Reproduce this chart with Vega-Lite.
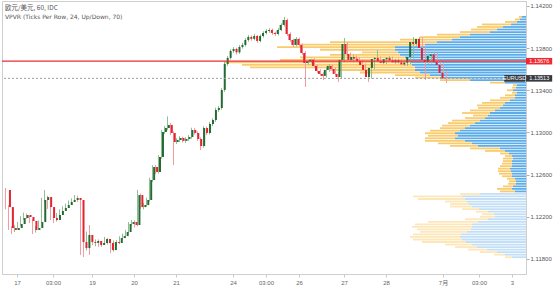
{
  "$schema": "https://vega.github.io/schema/vega-lite/v6.json",
  "width": 524,
  "height": 273,
  "autosize": {"type": "none"},
  "padding": {"left": 2, "top": 1, "right": 27, "bottom": 15},
  "background": "white",
  "title": {
    "text": "欧元/美元, 60, IDC",
    "subtitle": "VPVR (Ticks Per Row, 24, Up/Down, 70)",
    "anchor": "start",
    "frame": "group",
    "offset": -19,
    "dx": 3,
    "font": "Noto Sans CJK SC",
    "subtitleFont": "DejaVu Sans",
    "fontSize": 6.5,
    "subtitleFontSize": 6,
    "fontWeight": "normal",
    "color": "#555555",
    "subtitleColor": "#555555",
    "subtitlePadding": 3
  },
  "config": {
    "view": {"stroke": "#cfcfcf"},
    "axis": {"grid": false}
  },
  "datasets": {
    "candles": [
      {"t":0,"o":1.12454,"h":1.12473,"l":1.12270,"c":1.12292},
      {"t":1,"o":1.12292,"h":1.12310,"l":1.12074,"c":1.12093},
      {"t":2,"o":1.12093,"h":1.12112,"l":1.12036,"c":1.12074},
      {"t":3,"o":1.12074,"h":1.12120,"l":1.12055,"c":1.12093},
      {"t":4,"o":1.12093,"h":1.12150,"l":1.12080,"c":1.12131},
      {"t":5,"o":1.12131,"h":1.12205,"l":1.12115,"c":1.12188},
      {"t":6,"o":1.12188,"h":1.12240,"l":1.12170,"c":1.12217},
      {"t":7,"o":1.12217,"h":1.12230,"l":1.12180,"c":1.12198},
      {"t":8,"o":1.12198,"h":1.12210,"l":1.12140,"c":1.12160},
      {"t":9,"o":1.12160,"h":1.12175,"l":1.12036,"c":1.12074},
      {"t":10,"o":1.12074,"h":1.12110,"l":1.12050,"c":1.12093},
      {"t":11,"o":1.12093,"h":1.12165,"l":1.12080,"c":1.12150},
      {"t":12,"o":1.12150,"h":1.12380,"l":1.12140,"c":1.12359},
      {"t":13,"o":1.12359,"h":1.12454,"l":1.12340,"c":1.12387},
      {"t":14,"o":1.12387,"h":1.12400,"l":1.12275,"c":1.12292},
      {"t":15,"o":1.12292,"h":1.12305,"l":1.12170,"c":1.12188},
      {"t":16,"o":1.12188,"h":1.12200,"l":1.12140,"c":1.12169},
      {"t":17,"o":1.12169,"h":1.12235,"l":1.12155,"c":1.12217},
      {"t":18,"o":1.12217,"h":1.12270,"l":1.12200,"c":1.12255},
      {"t":19,"o":1.12255,"h":1.12300,"l":1.12240,"c":1.12283},
      {"t":20,"o":1.12283,"h":1.12325,"l":1.12265,"c":1.12311},
      {"t":21,"o":1.12311,"h":1.12355,"l":1.12295,"c":1.12340},
      {"t":22,"o":1.12340,"h":1.12375,"l":1.12320,"c":1.12359},
      {"t":23,"o":1.12359,"h":1.12406,"l":1.12340,"c":1.12378},
      {"t":24,"o":1.12378,"h":1.12400,"l":1.12340,"c":1.12359},
      {"t":25,"o":1.12359,"h":1.12370,"l":1.11837,"c":1.11960},
      {"t":26,"o":1.11960,"h":1.12000,"l":1.11818,"c":1.11903},
      {"t":27,"o":1.11903,"h":1.12060,"l":1.11880,"c":1.12027},
      {"t":28,"o":1.12027,"h":1.12122,"l":1.11837,"c":1.11960},
      {"t":29,"o":1.11960,"h":1.11990,"l":1.11930,"c":1.11951},
      {"t":30,"o":1.11951,"h":1.11985,"l":1.11920,"c":1.11970},
      {"t":31,"o":1.11970,"h":1.11985,"l":1.11915,"c":1.11932},
      {"t":32,"o":1.11932,"h":1.11970,"l":1.11915,"c":1.11951},
      {"t":33,"o":1.11951,"h":1.12010,"l":1.11940,"c":1.11989},
      {"t":34,"o":1.11989,"h":1.12000,"l":1.11935,"c":1.11951},
      {"t":35,"o":1.11951,"h":1.11965,"l":1.11856,"c":1.11884},
      {"t":36,"o":1.11884,"h":1.11975,"l":1.11870,"c":1.11960},
      {"t":37,"o":1.11960,"h":1.11980,"l":1.11935,"c":1.11951},
      {"t":38,"o":1.11951,"h":1.12015,"l":1.11940,"c":1.11998},
      {"t":39,"o":1.11998,"h":1.12040,"l":1.11980,"c":1.12017},
      {"t":40,"o":1.12017,"h":1.12075,"l":1.12000,"c":1.12055},
      {"t":41,"o":1.12055,"h":1.12150,"l":1.12040,"c":1.12131},
      {"t":42,"o":1.12131,"h":1.12170,"l":1.12115,"c":1.12150},
      {"t":43,"o":1.12150,"h":1.12165,"l":1.12100,"c":1.12122},
      {"t":44,"o":1.12122,"h":1.12454,"l":1.12110,"c":1.12406},
      {"t":45,"o":1.12406,"h":1.12420,"l":1.12275,"c":1.12292},
      {"t":46,"o":1.12292,"h":1.12330,"l":1.12270,"c":1.12311},
      {"t":47,"o":1.12311,"h":1.12380,"l":1.12300,"c":1.12359},
      {"t":48,"o":1.12359,"h":1.12570,"l":1.12345,"c":1.12549},
      {"t":49,"o":1.12549,"h":1.12690,"l":1.12530,"c":1.12672},
      {"t":50,"o":1.12672,"h":1.12690,"l":1.12605,"c":1.12625},
      {"t":51,"o":1.12625,"h":1.12785,"l":1.12610,"c":1.12767},
      {"t":52,"o":1.12767,"h":1.13025,"l":1.12750,"c":1.13004},
      {"t":53,"o":1.13004,"h":1.13060,"l":1.12985,"c":1.13042},
      {"t":54,"o":1.13042,"h":1.13152,"l":1.13020,"c":1.13071},
      {"t":55,"o":1.13071,"h":1.13090,"l":1.12975,"c":1.12995},
      {"t":56,"o":1.12995,"h":1.13010,"l":1.12691,"c":1.12909},
      {"t":57,"o":1.12909,"h":1.12945,"l":1.12890,"c":1.12928},
      {"t":58,"o":1.12928,"h":1.12965,"l":1.12910,"c":1.12947},
      {"t":59,"o":1.12947,"h":1.12960,"l":1.12905,"c":1.12920},
      {"t":60,"o":1.12920,"h":1.12955,"l":1.12900,"c":1.12938},
      {"t":61,"o":1.12938,"h":1.12975,"l":1.12920,"c":1.12957},
      {"t":62,"o":1.12957,"h":1.13045,"l":1.12940,"c":1.13023},
      {"t":63,"o":1.13023,"h":1.13040,"l":1.12980,"c":1.12995},
      {"t":64,"o":1.12995,"h":1.13010,"l":1.12920,"c":1.12938},
      {"t":65,"o":1.12938,"h":1.12955,"l":1.12833,"c":1.12871},
      {"t":66,"o":1.12871,"h":1.13060,"l":1.12855,"c":1.13042},
      {"t":67,"o":1.13042,"h":1.13055,"l":1.12975,"c":1.12995},
      {"t":68,"o":1.12995,"h":1.13100,"l":1.12980,"c":1.13080},
      {"t":69,"o":1.13080,"h":1.13135,"l":1.13060,"c":1.13118},
      {"t":70,"o":1.13118,"h":1.13235,"l":1.13100,"c":1.13213},
      {"t":71,"o":1.13213,"h":1.13250,"l":1.13195,"c":1.13232},
      {"t":72,"o":1.13232,"h":1.13420,"l":1.13215,"c":1.13403},
      {"t":73,"o":1.13403,"h":1.13670,"l":1.13385,"c":1.13650},
      {"t":74,"o":1.13650,"h":1.13725,"l":1.13630,"c":1.13707},
      {"t":75,"o":1.13707,"h":1.13790,"l":1.13690,"c":1.13773},
      {"t":76,"o":1.13773,"h":1.13810,"l":1.13755,"c":1.13792},
      {"t":77,"o":1.13792,"h":1.13805,"l":1.13740,"c":1.13760},
      {"t":78,"o":1.13760,"h":1.13830,"l":1.13745,"c":1.13811},
      {"t":79,"o":1.13811,"h":1.13850,"l":1.13795,"c":1.13830},
      {"t":80,"o":1.13830,"h":1.13895,"l":1.13815,"c":1.13877},
      {"t":81,"o":1.13877,"h":1.13925,"l":1.13860,"c":1.13906},
      {"t":82,"o":1.13906,"h":1.13920,"l":1.13870,"c":1.13888},
      {"t":83,"o":1.13888,"h":1.13935,"l":1.13875,"c":1.13915},
      {"t":84,"o":1.13915,"h":1.13925,"l":1.13850,"c":1.13868},
      {"t":85,"o":1.13868,"h":1.13930,"l":1.13855,"c":1.13915},
      {"t":86,"o":1.13915,"h":1.13960,"l":1.13900,"c":1.13944},
      {"t":87,"o":1.13944,"h":1.13980,"l":1.13930,"c":1.13963},
      {"t":88,"o":1.13963,"h":1.13990,"l":1.13945,"c":1.13972},
      {"t":89,"o":1.13972,"h":1.13985,"l":1.13925,"c":1.13944},
      {"t":90,"o":1.13944,"h":1.13955,"l":1.13915,"c":1.13934},
      {"t":91,"o":1.13934,"h":1.13990,"l":1.13920,"c":1.13972},
      {"t":92,"o":1.13972,"h":1.14035,"l":1.13960,"c":1.14020},
      {"t":93,"o":1.14020,"h":1.14096,"l":1.14005,"c":1.14067},
      {"t":94,"o":1.14067,"h":1.14080,"l":1.13915,"c":1.13934},
      {"t":95,"o":1.13934,"h":1.13950,"l":1.13860,"c":1.13877},
      {"t":96,"o":1.13877,"h":1.13890,"l":1.13810,"c":1.13830},
      {"t":97,"o":1.13830,"h":1.13905,"l":1.13815,"c":1.13887},
      {"t":98,"o":1.13887,"h":1.13900,"l":1.13815,"c":1.13830},
      {"t":99,"o":1.13830,"h":1.13845,"l":1.13735,"c":1.13754},
      {"t":100,"o":1.13754,"h":1.13770,"l":1.13431,"c":1.13659},
      {"t":101,"o":1.13659,"h":1.13690,"l":1.13640,"c":1.13675},
      {"t":102,"o":1.13675,"h":1.13700,"l":1.13655,"c":1.13690},
      {"t":103,"o":1.13690,"h":1.13705,"l":1.13615,"c":1.13631},
      {"t":104,"o":1.13631,"h":1.13645,"l":1.13565,"c":1.13583},
      {"t":105,"o":1.13583,"h":1.13600,"l":1.13540,"c":1.13555},
      {"t":106,"o":1.13555,"h":1.13570,"l":1.13498,"c":1.13536},
      {"t":107,"o":1.13536,"h":1.13610,"l":1.13520,"c":1.13593},
      {"t":108,"o":1.13593,"h":1.13650,"l":1.13575,"c":1.13631},
      {"t":109,"o":1.13631,"h":1.13645,"l":1.13585,"c":1.13602},
      {"t":110,"o":1.13602,"h":1.13615,"l":1.13540,"c":1.13555},
      {"t":111,"o":1.13555,"h":1.13570,"l":1.13479,"c":1.13526},
      {"t":112,"o":1.13526,"h":1.13705,"l":1.13510,"c":1.13688},
      {"t":113,"o":1.13688,"h":1.13896,"l":1.13670,"c":1.13839},
      {"t":114,"o":1.13839,"h":1.13855,"l":1.13725,"c":1.13744},
      {"t":115,"o":1.13744,"h":1.13760,"l":1.13670,"c":1.13688},
      {"t":116,"o":1.13688,"h":1.13735,"l":1.13675,"c":1.13716},
      {"t":117,"o":1.13716,"h":1.13730,"l":1.13690,"c":1.13700},
      {"t":118,"o":1.13700,"h":1.13715,"l":1.13660,"c":1.13678},
      {"t":119,"o":1.13678,"h":1.13690,"l":1.13620,"c":1.13640},
      {"t":120,"o":1.13640,"h":1.13655,"l":1.13575,"c":1.13593},
      {"t":121,"o":1.13593,"h":1.13605,"l":1.13479,"c":1.13526},
      {"t":122,"o":1.13526,"h":1.13630,"l":1.13510,"c":1.13612},
      {"t":123,"o":1.13612,"h":1.13715,"l":1.13600,"c":1.13697},
      {"t":124,"o":1.13697,"h":1.13782,"l":1.13680,"c":1.13707},
      {"t":125,"o":1.13707,"h":1.13720,"l":1.13660,"c":1.13676},
      {"t":126,"o":1.13676,"h":1.13690,"l":1.13645,"c":1.13660},
      {"t":127,"o":1.13660,"h":1.13710,"l":1.13650,"c":1.13695},
      {"t":128,"o":1.13695,"h":1.13725,"l":1.13680,"c":1.13707},
      {"t":129,"o":1.13707,"h":1.13720,"l":1.13670,"c":1.13685},
      {"t":130,"o":1.13685,"h":1.13700,"l":1.13650,"c":1.13665},
      {"t":131,"o":1.13665,"h":1.13700,"l":1.13655,"c":1.13685},
      {"t":132,"o":1.13685,"h":1.13695,"l":1.13650,"c":1.13665},
      {"t":133,"o":1.13665,"h":1.13680,"l":1.13630,"c":1.13645},
      {"t":134,"o":1.13645,"h":1.13680,"l":1.13630,"c":1.13662},
      {"t":135,"o":1.13662,"h":1.13735,"l":1.13650,"c":1.13716},
      {"t":136,"o":1.13716,"h":1.13906,"l":1.13700,"c":1.13858},
      {"t":137,"o":1.13858,"h":1.13875,"l":1.13820,"c":1.13840},
      {"t":138,"o":1.13840,"h":1.13906,"l":1.13825,"c":1.13887},
      {"t":139,"o":1.13887,"h":1.13900,"l":1.13780,"c":1.13801},
      {"t":140,"o":1.13801,"h":1.13815,"l":1.13498,"c":1.13688},
      {"t":141,"o":1.13688,"h":1.13700,"l":1.13650,"c":1.13668},
      {"t":142,"o":1.13668,"h":1.13745,"l":1.13655,"c":1.13726},
      {"t":143,"o":1.13726,"h":1.13760,"l":1.13710,"c":1.13740},
      {"t":144,"o":1.13740,"h":1.13755,"l":1.13650,"c":1.13669},
      {"t":145,"o":1.13669,"h":1.13685,"l":1.13620,"c":1.13640},
      {"t":146,"o":1.13640,"h":1.13655,"l":1.13545,"c":1.13564},
      {"t":147,"o":1.13564,"h":1.13580,"l":1.13470,"c":1.13513}
    ],
    "profile": [
      {"p":1.11808,"u":14,"d":7},{"p":1.11832,"u":21,"d":11},{"p":1.11856,"u":29,"d":17},{"p":1.11880,"u":39,"d":19},
      {"p":1.11904,"u":49,"d":22},{"p":1.11928,"u":54,"d":27},{"p":1.11952,"u":60,"d":44},{"p":1.11976,"u":64,"d":49},
      {"p":1.12000,"u":66,"d":50},{"p":1.12024,"u":65,"d":48},{"p":1.12048,"u":59,"d":47},{"p":1.12072,"u":55,"d":54},
      {"p":1.12096,"u":54,"d":60},{"p":1.12120,"u":54,"d":57},{"p":1.12144,"u":48,"d":50},{"p":1.12168,"u":38,"d":23},
      {"p":1.12192,"u":31,"d":15},{"p":1.12216,"u":32,"d":12},{"p":1.12240,"u":38,"d":12},{"p":1.12264,"u":47,"d":17},
      {"p":1.12288,"u":54,"d":22},{"p":1.12312,"u":57,"d":19},{"p":1.12336,"u":59,"d":22},{"p":1.12360,"u":61,"d":47},
      {"p":1.12384,"u":64,"d":49},{"p":1.12408,"u":46,"d":20},{"p":1.12432,"u":11,"d":15},{"p":1.12456,"u":14,"d":15},
      {"p":1.12480,"u":13,"d":10},{"p":1.12504,"u":10,"d":8},{"p":1.12528,"u":10,"d":7},{"p":1.12552,"u":11,"d":8},
      {"p":1.12576,"u":14,"d":10},{"p":1.12600,"u":14,"d":13},{"p":1.12624,"u":15,"d":13},{"p":1.12648,"u":16,"d":12},
      {"p":1.12672,"u":14,"d":12},{"p":1.12696,"u":14,"d":10},{"p":1.12720,"u":14,"d":9},{"p":1.12744,"u":13,"d":10},
      {"p":1.12768,"u":14,"d":7},{"p":1.12792,"u":17,"d":9},{"p":1.12816,"u":21,"d":20},{"p":1.12840,"u":26,"d":30},
      {"p":1.12864,"u":48,"d":28},{"p":1.12888,"u":54,"d":34},{"p":1.12912,"u":61,"d":40},{"p":1.12936,"u":71,"d":30},
      {"p":1.12960,"u":68,"d":30},{"p":1.12984,"u":71,"d":30},{"p":1.13008,"u":66,"d":30},{"p":1.13032,"u":61,"d":25},
      {"p":1.13056,"u":56,"d":28},{"p":1.13080,"u":51,"d":27},{"p":1.13104,"u":46,"d":28},{"p":1.13128,"u":41,"d":20},
      {"p":1.13152,"u":38,"d":15},{"p":1.13176,"u":36,"d":28},{"p":1.13200,"u":31,"d":25},{"p":1.13224,"u":26,"d":22},
      {"p":1.13248,"u":23,"d":26},{"p":1.13272,"u":21,"d":23},{"p":1.13296,"u":16,"d":20},{"p":1.13320,"u":11,"d":15},
      {"p":1.13344,"u":11,"d":10},{"p":1.13368,"u":9,"d":5},{"p":1.13392,"u":13,"d":6},{"p":1.13416,"u":10,"d":4},
      {"p":1.13440,"u":9,"d":4},{"p":1.13464,"u":21,"d":15},{"p":1.13488,"u":56,"d":30},{"p":1.13512,"u":86,"d":25},
      {"p":1.13536,"u":96,"d":35},{"p":1.13560,"u":106,"d":60},{"p":1.13584,"u":111,"d":85},{"p":1.13608,"u":111,"d":165},
      {"p":1.13632,"u":114,"d":170},{"p":1.13656,"u":116,"d":185},{"p":1.13680,"u":119,"d":127},{"p":1.13704,"u":121,"d":105},
      {"p":1.13728,"u":126,"d":70},{"p":1.13752,"u":128,"d":36},{"p":1.13776,"u":131,"d":75},{"p":1.13800,"u":131,"d":118},
      {"p":1.13824,"u":101,"d":125},{"p":1.13848,"u":89,"d":107},{"p":1.13872,"u":74,"d":52},{"p":1.13896,"u":66,"d":40},
      {"p":1.13920,"u":56,"d":33},{"p":1.13944,"u":36,"d":30},{"p":1.13968,"u":29,"d":26},{"p":1.13992,"u":23,"d":26},
      {"p":1.14016,"u":15,"d":29},{"p":1.14040,"u":9,"d":12},{"p":1.14064,"u":6,"d":5},{"p":1.14088,"u":4,"d":3}
    ],
    "labels": [
      {"lbl": "1.13676", "y": 1.13676, "yt": 1.13707, "yb": 1.13645, "a": 173.67, "b": 182.4, "m": 178.1, "col": "red"},
      {"lbl": "1.13513", "y": 1.13513, "yt": 1.13544, "yb": 1.13482, "a": 173.67, "b": 182.4, "m": 178.1, "col": "dark"},
      {"lbl": "EURUSD", "y": 1.13513, "yt": 1.13544, "yb": 1.13482, "a": 166.4, "b": 173.4, "m": 169.9, "col": "dark"}
    ]
  },
  "resolve": {"scale": {"x": "independent"}},
  "layer": [
    {
      "data": {"name": "profile"},
      "transform": [{"calculate": "datum.p + 0.00017", "as": "p2"}],
      "mark": {"type": "rect", "opacity": 0.9},
      "encoding": {
        "x": {"field": "u", "type": "quantitative", "scale": {"domain": [0, 524], "reverse": true, "nice": false, "zero": false}, "axis": null},
        "x2": {"datum": 0},
        "y": {"field": "p", "type": "quantitative", "title": null, "scale": {"domain": [1.11657, 1.14247], "nice": false, "zero": false}},
        "y2": {"field": "p2"},
        "color": {"condition": {"test": "datum.p >= 1.1243", "value": "#4aa3e8"}, "value": "#bcdcf6"}
      }
    },
    {
      "data": {"name": "profile"},
      "transform": [
        {"calculate": "datum.u + datum.d", "as": "ud"},
        {"calculate": "datum.p + 0.00017", "as": "p2"}
      ],
      "mark": {"type": "rect", "opacity": 0.9},
      "encoding": {
        "x": {"field": "u", "type": "quantitative", "scale": {"domain": [0, 524], "reverse": true, "nice": false, "zero": false}, "axis": null},
        "x2": {"field": "ud"},
        "y": {"field": "p", "type": "quantitative", "title": null},
        "y2": {"field": "p2"},
        "color": {"condition": {"test": "datum.p >= 1.1243", "value": "#f8c55c"}, "value": "#fde3b0"}
      }
    },
    {
      "data": {"name": "candles"},
      "mark": {"type": "rule", "strokeWidth": 1, "xOffset": 0.5},
      "encoding": {
        "x": {
          "field": "t", "type": "quantitative",
          "scale": {"domain": [-1, 173.67], "nice": false, "zero": false},
          "axis": {
            "orient": "bottom",
            "title": null,
            "values": [4, 16, 29, 43, 57, 76, 87, 98, 113, 127, 146, 158, 169],
            "labelExpr": "datum.value==4?'17':datum.value==16?'03:00':datum.value==29?'19':datum.value==43?'20':datum.value==57?'21':datum.value==76?'24':datum.value==87?'03:00':datum.value==98?'26':datum.value==113?'27':datum.value==127?'28':datum.value==146?'7月':datum.value==158?'03:00':'3'",
            "labelFont": "Liberation Sans, Noto Sans CJK SC",
            "labelFontSize": 6,
            "labelColor": "#666666",
            "labelPadding": 2,
            "tickSize": 3,
            "tickColor": "#c8c8c8",
            "domainColor": "#cfcfcf",
            "labelFlush": false,
            "labelOverlap": false
          }
        },
        "y": {
          "field": "l", "type": "quantitative",
          "title": null,
          "scale": {"domain": [1.11657, 1.14247], "nice": false, "zero": false},
          "axis": {
            "orient": "right",
            "title": null,
            "values": [1.118, 1.12, 1.122, 1.124, 1.126, 1.128, 1.13, 1.132, 1.134, 1.136, 1.138, 1.14, 1.142],
            "format": ".5f",
            "labelFont": "Liberation Sans",
            "labelFontSize": 6,
            "labelColor": "#555555",
            "labelPadding": 1,
            "tickSize": 3,
            "tickColor": "#b0b0b0",
            "domainColor": "#cfcfcf",
            "labelOverlap": false,
            "labelFlush": false,
            "grid": false
          }
        },
        "y2": {"field": "h"},
        "color": {"condition": {"test": "datum.c >= datum.o", "value": "#8fbf96"}, "value": "#f39aa2"}
      }
    },
    {
      "data": {"name": "candles"},
      "mark": {"type": "bar", "width": 2},
      "encoding": {
        "x": {"field": "t", "type": "quantitative", "scale": {"domain": [-1, 173.67], "nice": false, "zero": false}, "axis": null},
        "y": {"field": "o", "type": "quantitative", "title": null},
        "y2": {"field": "c"},
        "color": {"condition": {"test": "datum.c >= datum.o", "value": "#236b31"}, "value": "#e5222d"}
      }
    },
    {
      "data": {"values": [{}]},
      "mark": {"type": "rule", "color": "#9e9e9e", "strokeWidth": 1, "strokeDash": [2, 2]},
      "encoding": {"y": {"datum": 1.13513, "type": "quantitative", "title": null}}
    },
    {
      "data": {"values": [{}]},
      "mark": {"type": "rule", "color": "#ef2a33", "strokeWidth": 1.2},
      "encoding": {"y": {"datum": 1.13676, "type": "quantitative", "title": null}}
    },
    {
      "data": {"name": "labels"},
      "mark": {"type": "rect"},
      "encoding": {
        "x": {"field": "a", "type": "quantitative", "scale": {"domain": [-1, 173.67], "nice": false, "zero": false}, "axis": null},
        "x2": {"field": "b"},
        "y": {"field": "yt", "type": "quantitative", "title": null},
        "y2": {"field": "yb"},
        "color": {"condition": {"test": "datum.col == 'red'", "value": "#ef2a33"}, "value": "#363a40"}
      }
    },
    {
      "data": {"name": "labels"},
      "mark": {"type": "text", "font": "Liberation Sans", "fontSize": 5.5, "color": "white", "align": "center", "baseline": "middle"},
      "encoding": {
        "x": {"field": "m", "type": "quantitative", "scale": {"domain": [-1, 173.67], "nice": false, "zero": false}, "axis": null},
        "y": {"field": "y", "type": "quantitative", "title": null},
        "text": {"field": "lbl"}
      }
    }
  ]
}
